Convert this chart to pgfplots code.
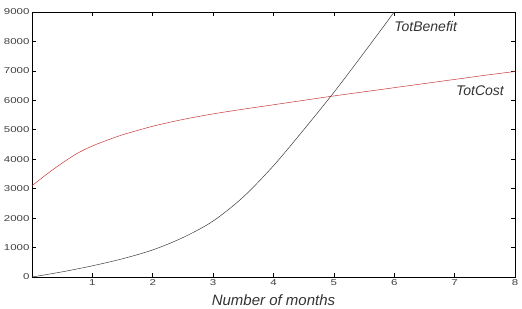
\documentclass[border=0pt]{standalone}
\usepackage{fontspec}
\setmainfont{Liberation Sans}
\newfontfamily\tickfont[FakeStretch=1.35]{Liberation Sans}
\usepackage{pgfplots}
\pgfplotsset{compat=1.18}
\definecolor{costred}{RGB}{200,55,55}
\definecolor{benefitgray}{RGB}{60,60,60}
\begin{document}
\begin{tikzpicture}
\useasboundingbox (-32pt,-31pt) rectangle (490pt,277pt);
\begin{axis}[
  at={(0pt,0pt)}, anchor=south west,
  scale only axis, width=483pt, height=265pt,
  xmin=0, xmax=8, ymin=0, ymax=9000,
  xtick={1,2,3,4,5,6,7,8},
  ytick={0,1000,2000,3000,4000,5000,6000,7000,8000,9000},
  tick align=inside, major tick length=4pt,
  tick style={black, line width=0.6pt},
  axis line style={black, line width=0.8pt},
  /pgf/number format/assume math mode=true,
  /pgf/number format/1000 sep={},
  tick label style={font=\tickfont\fontsize{8.5}{9}\selectfont, text=black!75},
  xticklabel style={yshift=1pt},
  yticklabel style={xshift=1pt},
  xlabel={Number of months},
  xlabel style={font=\itshape\fontsize{15}{17}\selectfont, text=black!80, at={(axis description cs:0.5,0)}, anchor=center, yshift=-23pt},
  clip=true,
]
\addplot[costred, line width=0.5pt, smooth] coordinates {
 (0,3100) (0.25,3500) (0.5,3870) (0.75,4200) (1,4450) (1.25,4650) (1.5,4830)
 (2,5120) (2.5,5350) (3,5540) (3.5,5700) (4,5850) (4.5,6000) (5,6150)
 (5.5,6290) (6,6430) (6.5,6570) (7,6710) (7.5,6850) (8,6980)};
\addplot[benefitgray, line width=0.5pt, smooth] coordinates {
 (0,0) (0.5,175) (1,380) (1.5,620) (2,920) (2.5,1340) (3,1900) (3.5,2720)
 (4,3780) (4.5,5000) (5,6270) (5.5,7620) (6,9000) (6.05,9140)};
\node[font=\itshape\fontsize{14}{16}\selectfont, text=black!80] at (axis cs:6.52,8500) {TotBenefit};
\node[font=\itshape\fontsize{14}{16}\selectfont, text=black!80] at (axis cs:7.42,6340) {TotCost};
\end{axis}
\end{tikzpicture}
\end{document}
